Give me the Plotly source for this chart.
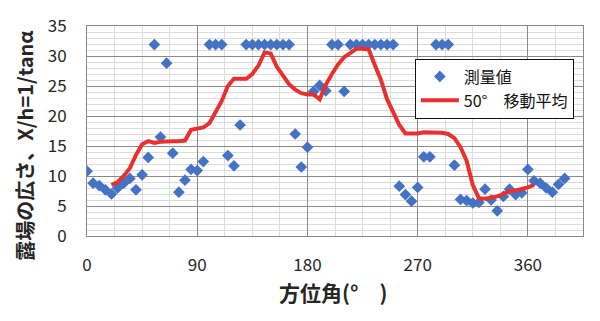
import plotly.graph_objects as go

# Measured values (azimuth in degrees, width X/h = 1/tanα)
measured_angle = [
    0, 5, 10, 15, 20, 25, 30, 35, 40, 45, 50, 55, 60, 65, 70, 75, 80, 85, 90, 95,
    100, 105, 110, 115, 120, 125, 130, 135, 140, 145, 150, 155, 160, 165, 170, 175,
    180, 185, 190, 195, 200, 205, 210, 215, 220, 225, 230, 235, 240, 245, 250, 255,
    260, 265, 270, 275, 280, 285, 290, 295, 300, 305, 310, 315, 320, 325, 330, 335,
    340, 345, 350, 355, 360, 365, 370, 375, 380, 385, 390,
]
measured_value = [
    10.8, 8.8, 8.4, 7.7, 7.0, 8.0, 8.8, 9.6, 7.7, 10.2, 13.1, 31.9, 16.5, 28.8, 13.8, 7.3, 9.3, 11.1, 10.9, 12.4,
    31.9, 31.9, 31.9, 13.4, 11.7, 18.5, 31.9, 31.9, 31.9, 31.9, 31.9, 31.9, 31.9, 31.9, 17.0, 11.5,
    14.8, 24.1, 25.1, 24.2, 31.9, 31.9, 24.1, 31.9, 31.9, 31.9, 31.9, 31.9, 31.9, 31.9, 31.9, 8.3,
    6.9, 5.8, 8.1, 13.2, 13.2, 31.9, 31.9, 31.9, 11.8, 6.1, 5.9, 5.5, 5.6, 7.8, 6.0, 4.2,
    6.6, 7.8, 6.9, 7.2, 11.1, 9.2, 8.8, 8.0, 7.3, 8.6, 9.6,
]

# 50-degree moving average
avg_angle = [
    20, 25, 30, 35, 40, 45, 50, 55, 60, 65, 70, 75, 80, 85, 90, 95, 100, 105, 110, 115,
    120, 125, 130, 135, 140, 145, 150, 155, 160, 165, 170, 175, 180, 185, 190, 195, 200,
    205, 210, 215, 220, 225, 230, 235, 240, 245, 250, 255, 260, 265, 270, 275, 280, 285,
    290, 295, 300, 305, 310, 315, 320, 325, 330, 335, 340, 345, 350, 355, 360, 365,
]
avg_value = [
    8.5, 9.0, 10.0, 11.3, 13.5, 15.3, 15.8, 15.5, 15.7, 15.8, 15.8, 15.8, 15.9, 17.7, 17.9, 18.1, 18.8, 20.5, 22.5, 25.0,
    26.2, 26.2, 26.2, 27.0, 28.4, 30.6, 30.4, 28.2, 26.6, 25.3, 24.4, 23.8, 23.6, 23.6, 22.8, 25.2, 27.0,
    28.6, 29.8, 30.6, 31.2, 31.2, 31.1, 28.5, 26.0, 22.8, 20.5, 18.5, 17.1, 17.1, 17.1, 17.3, 17.3, 17.2,
    17.2, 17.0, 16.3, 14.8, 12.5, 8.5, 6.3, 6.2, 6.4, 6.6, 7.0, 7.5, 7.6, 7.8, 8.1, 8.5,
]

x_ticks = [0, 90, 180, 270, 360]
y_ticks = [0, 5, 10, 15, 20, 25, 30, 35]

FONT = "Noto Sans CJK JP"
MAJOR = "#8a8a8a"
MINOR = "#dcdcdc"

fig = go.Figure()
fig.add_trace(go.Scatter(
    x=measured_angle, y=measured_value, mode="markers", name="測量値",
    marker=dict(symbol="diamond", size=9, color="#4472C4"),
))
fig.add_trace(go.Scatter(
    x=avg_angle, y=avg_value, mode="lines", name="50°　移動平均",
    line=dict(color="#e8312f", width=4),
))

fig.update_layout(
    width=600, height=321,
    margin=dict(l=87, r=17, t=12, b=85),
    paper_bgcolor="white", plot_bgcolor="white",
    font=dict(family=FONT, color="#262626"),
    showlegend=True,
    legend=dict(
        x=0.661, y=0.845, xanchor="left", yanchor="top",
        bgcolor="white", bordercolor="#111111", borderwidth=1,
        font=dict(size=16, family=FONT, color="#111111"),
        tracegroupgap=2, itemwidth=38,
    ),
    xaxis=dict(
        range=[0, 405], tickvals=x_ticks, ticktext=[str(v) for v in x_ticks],
        showgrid=True, gridcolor=MAJOR, gridwidth=1,
        minor=dict(dtick=22.5, tick0=0, showgrid=True, gridcolor=MINOR, gridwidth=1),
        showline=True, linecolor=MAJOR, mirror=True, zeroline=False,
        ticks="", ticklabelstandoff=14,
        tickfont=dict(size=17, family=FONT, color="#262626"),
    ),
    yaxis=dict(
        range=[0, 35.0001], tickvals=y_ticks, ticktext=[str(v) for v in y_ticks],
        showgrid=True, gridcolor=MAJOR, gridwidth=1,
        minor=dict(dtick=1, tick0=0, showgrid=True, gridcolor=MINOR, gridwidth=1),
        showline=True, linecolor=MAJOR, mirror=True, zeroline=False,
        ticks="", ticklabelstandoff=16, ticklabeloverflow="allow",
        tickfont=dict(size=17, family=FONT, color="#262626"),
    ),
    annotations=[
        dict(
            text="<b>露場の広さ、X/h=1/tanα</b>", textangle=-90,
            xref="paper", yref="paper", x=-0.125, y=0.43,
            xanchor="center", yanchor="middle", showarrow=False,
            font=dict(size=20, family=FONT, color="#262626"),
        ),
        dict(
            text="<b>方位角(°　)</b>",
            xref="paper", yref="paper", x=0.496, y=-0.268,
            xanchor="center", yanchor="middle", showarrow=False,
            font=dict(size=21, family=FONT, color="#262626"),
        ),
    ],
)

fig.write_html("out.html")
